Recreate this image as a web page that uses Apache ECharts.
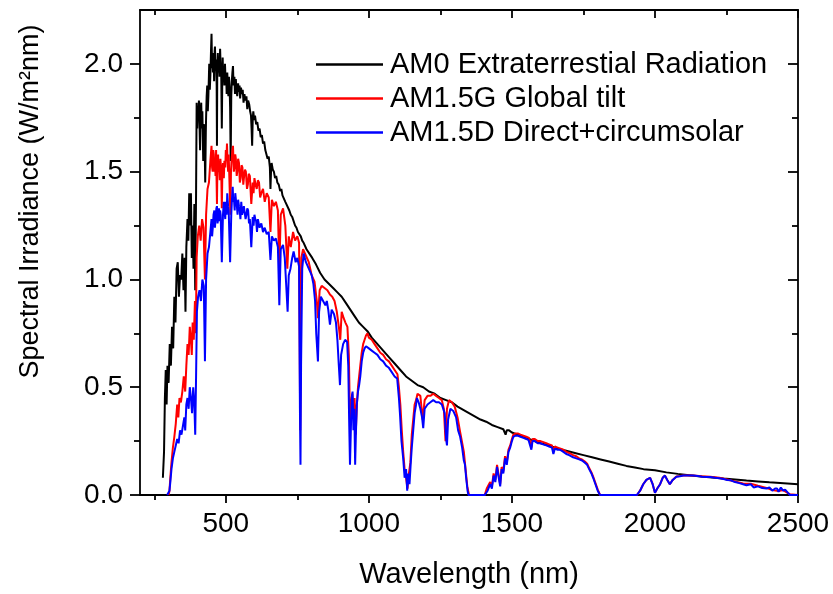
<!DOCTYPE html>
<html>
<head>
<meta charset="utf-8">
<script src="https://cdn.jsdelivr.net/npm/echarts@6/dist/echarts.min.js"></script>
<style>
  html, body { margin: 0; padding: 0; background: #fff; }
  #chart { width: 833px; height: 594px; }
</style>
</head>
<body>
<div id="chart"></div>
<script>
// tick labels
const xMajor = [500, 1000, 1500, 2000, 2500]
const xMinor = [250, 750, 1250, 1750, 2250]
const yMajor = [0, 0.5, 1.0, 1.5, 2.0]
const yMinor = [0.25, 0.75, 1.25, 1.75]

// AM0 extraterrestrial (wavelength nm / W m-2 nm-1)
const am0Wl = [280, 284, 287, 290, 293, 296, 300, 304, 308, 312, 316, 320, 324, 328, 332, 336, 340, 344, 348, 352, 356, 359, 362, 366, 369, 372, 375, 378, 381, 384, 387, 390, 393, 396,
  398, 400, 402, 404, 406, 408, 410, 412, 414, 416, 418, 421, 423, 425, 428, 430, 431, 433, 435, 437, 439, 441, 442, 444, 446, 448, 450, 452, 453, 455, 456, 458, 459, 461, 462, 464, 466, 468, 469, 470, 472, 474, 476, 478, 480, 482, 484, 486, 488, 489, 491, 493, 495, 497, 499, 501, 503, 505, 507, 509, 511, 513, 515, 517, 519, 521, 523, 525, 527, 530, 532, 535, 537, 540, 543, 545, 548, 550, 553, 556, 559, 562, 565, 568, 572, 575, 578, 582, 585, 588, 590, 592, 594, 596, 599, 602, 606, 610, 614, 618, 622, 626, 630, 634, 638, 642, 646, 650, 654, 656, 658, 660, 664, 668, 672, 676, 680, 685, 690, 694, 698, 703, 708, 712,
  722, 727, 732, 742, 747, 752, 762, 767, 772, 782, 792, 802, 815, 830, 845, 860, 875, 890, 905, 920, 935, 950, 965, 980, 995, 1010, 1030, 1050, 1070, 1090, 1110, 1130, 1150, 1170, 1190, 1210, 1230, 1250, 1270, 1290, 1310, 1330, 1350, 1370, 1390, 1410, 1430, 1450, 1470, 1478, 1482, 1490, 1500, 1520, 1540, 1560, 1580, 1600, 1630, 1660, 1690, 1720, 1750, 1780, 1810, 1840, 1870, 1900, 1930, 1960, 2000, 2040, 2080, 2120, 2160, 2200, 2240, 2280, 2320, 2360, 2400, 2450, 2500]
const am0Val = [0.08, 0.20, 0.45, 0.58, 0.42, 0.60, 0.52, 0.70, 0.60, 0.78, 0.68, 0.92, 0.80, 1.05, 1.08, 0.92, 1.02, 1.00, 1.12, 0.95, 1.10, 0.85, 1.15, 1.28, 1.18, 1.40, 1.25, 1.40, 1.10, 1.25, 1.05, 1.35, 0.95, 1.40,
  1.82, 1.70, 1.80, 1.75, 1.83, 1.72, 1.60, 1.78, 1.82, 1.70, 1.78, 1.55, 1.72, 1.70, 1.45, 1.68, 1.75, 1.85, 1.90, 1.78, 1.85, 1.95, 2.00, 1.88, 1.95, 2.05, 2.14, 1.98, 2.05, 1.96, 2.05, 2.00, 1.92, 2.06, 2.08, 1.97, 2.02, 1.90, 1.62, 1.95, 2.05, 1.96, 2.01, 1.94, 2.07, 1.98, 1.95, 1.70, 1.98, 2.03, 1.92, 1.99, 1.90, 2.00, 1.93, 1.96, 1.86, 1.96, 1.90, 1.85, 1.94, 1.90, 1.80, 1.55, 1.85, 1.92, 1.96, 1.99, 1.90, 1.94, 1.86, 1.93, 1.88, 1.85, 1.91, 1.87, 1.90, 1.84, 1.89, 1.86, 1.88, 1.82, 1.86, 1.83, 1.85, 1.79, 1.83, 1.81, 1.78, 1.76, 1.70, 1.62, 1.74, 1.78, 1.74, 1.76, 1.72, 1.73, 1.69, 1.70, 1.66, 1.67, 1.63, 1.64, 1.60, 1.60, 1.56, 1.57, 1.52, 1.42, 1.50, 1.54, 1.51, 1.50, 1.47, 1.48, 1.45, 1.44, 1.41, 1.42, 1.39, 1.39, 1.36, 1.36,
  1.32, 1.30, 1.29, 1.25, 1.24, 1.22, 1.20, 1.18, 1.17, 1.14, 1.12, 1.10, 1.07, 1.03, 1.00, 0.98, 0.96, 0.94, 0.92, 0.89, 0.86, 0.83, 0.80, 0.78, 0.76, 0.73, 0.70, 0.67, 0.64, 0.61, 0.58, 0.55, 0.53, 0.51, 0.50, 0.48, 0.47, 0.45, 0.44, 0.43, 0.41, 0.395, 0.38, 0.365, 0.35, 0.34, 0.325, 0.315, 0.305, 0.28, 0.30, 0.30, 0.29, 0.28, 0.27, 0.26, 0.25, 0.24, 0.23, 0.215, 0.205, 0.195, 0.185, 0.175, 0.165, 0.155, 0.145, 0.135, 0.128, 0.12, 0.115, 0.105, 0.098, 0.092, 0.086, 0.081, 0.076, 0.072, 0.067, 0.063, 0.059, 0.055, 0.05]

// AM1.5G global tilt
const globalWl = [300, 303, 306, 310, 315, 320, 325, 330, 334, 338, 343, 348, 353, 358, 362, 366, 370, 374, 378, 381, 384, 388, 392, 395, 398, 402, 407, 412, 417, 422, 427, 431, 436, 441, 446, 450, 452, 454, 456, 458, 460, 462, 464, 466, 469, 471, 473, 475, 477, 479, 481, 484, 486, 488, 490, 493, 495, 498, 500, 502, 504, 506, 508, 510, 512, 516, 518, 520, 523, 525, 528, 530, 533, 535, 538, 540, 543, 546, 549, 552, 555, 558, 561, 564, 567, 570, 574, 577, 580, 584, 589, 594, 597, 600, 604, 608, 612, 616, 620, 624, 630, 636, 643, 650, 656, 661, 668, 675, 682, 687, 692, 700, 708, 715, 720, 727, 735, 742, 750, 756, 760, 764, 770, 780, 790, 800, 810, 818, 822, 828, 835, 845, 855, 864, 872, 880, 888, 895, 900, 905, 912, 918, 925, 930, 934, 938, 942, 946, 950, 954, 958, 962, 966, 970, 975, 980, 985, 990, 995, 1000, 1010, 1020, 1030, 1040, 1050, 1060, 1070, 1080, 1090, 1100, 1105, 1110, 1115, 1120, 1125, 1130, 1135, 1140, 1145, 1150, 1155, 1160, 1165, 1170, 1180, 1188, 1195, 1205, 1215, 1225, 1235, 1245, 1255, 1262, 1268, 1273, 1280, 1290, 1300, 1310, 1318, 1325, 1332, 1338, 1344, 1350, 1405, 1412, 1424, 1430, 1436, 1442, 1448, 1454, 1459, 1464, 1470, 1476, 1482, 1488, 1494, 1500, 1505, 1512, 1522, 1530, 1540, 1550, 1560, 1568, 1572, 1580, 1590, 1600, 1610, 1620, 1630, 1640, 1645, 1650, 1660, 1670, 1680, 1690, 1700, 1714, 1725, 1735, 1745, 1755, 1763, 1770, 1778, 1784, 1792, 1800, 1808, 1937, 1948, 1959, 1970, 1983, 1992, 2000, 2008, 2018, 2027, 2035, 2043, 2052, 2062, 2075, 2087, 2100, 2133, 2165, 2193, 2225, 2252, 2280, 2308, 2335, 2360, 2390, 2410, 2432, 2448, 2472, 2500]
const globalVal = [0.0, 0.02, 0.08, 0.15, 0.22, 0.27, 0.33, 0.42, 0.36, 0.45, 0.43, 0.48, 0.55, 0.48, 0.60, 0.70, 0.65, 0.78, 0.72, 0.65, 0.80, 0.72, 0.90, 0.75, 1.10, 1.20, 1.25, 1.18, 1.28, 1.24, 1.00, 1.30, 1.42, 1.45, 1.55, 1.62, 1.52, 1.50, 1.60, 1.58, 1.50, 1.55, 1.48, 1.60, 1.35, 1.56, 1.58, 1.50, 1.52, 1.46, 1.56, 1.50, 1.33, 1.50, 1.54, 1.47, 1.55, 1.52, 1.60, 1.55, 1.63, 1.55, 1.50, 1.58, 1.58, 1.30, 1.50, 1.55, 1.60, 1.62, 1.50, 1.52, 1.58, 1.56, 1.48, 1.50, 1.56, 1.54, 1.45, 1.47, 1.53, 1.52, 1.44, 1.48, 1.51, 1.50, 1.42, 1.44, 1.49, 1.48, 1.35, 1.45, 1.40, 1.47, 1.44, 1.42, 1.46, 1.45, 1.38, 1.40, 1.42, 1.36, 1.40, 1.38, 1.22, 1.37, 1.34, 1.36, 1.32, 1.05, 1.30, 1.33, 1.25, 1.05, 1.20, 1.15, 1.22, 1.18, 1.20, 1.17, 0.30, 1.10, 1.14, 1.11, 1.08, 1.02, 0.99, 0.90, 0.82, 0.95, 0.97, 0.96, 0.95, 0.93, 0.92, 0.90, 0.85, 0.78, 0.72, 0.85, 0.82, 0.80, 0.78, 0.65, 0.35, 0.42, 0.47, 0.40, 0.45, 0.28, 0.42, 0.50, 0.55, 0.60, 0.66, 0.70, 0.72, 0.74, 0.75, 0.73, 0.72, 0.70, 0.68, 0.66, 0.65, 0.63, 0.62, 0.60, 0.58, 0.56, 0.50, 0.42, 0.30, 0.20, 0.12, 0.08, 0.03, 0.10, 0.15, 0.28, 0.35, 0.42, 0.44, 0.47, 0.46, 0.35, 0.44, 0.46, 0.46, 0.47, 0.46, 0.45, 0.44, 0.40, 0.25, 0.40, 0.44, 0.43, 0.41, 0.36, 0.30, 0.25, 0.20, 0.12, 0.04, 0.0, 0.0, 0.03, 0.06, 0.04, 0.10, 0.07, 0.14, 0.09, 0.05, 0.13, 0.11, 0.18, 0.15, 0.21, 0.23, 0.26, 0.28, 0.285, 0.285, 0.28, 0.275, 0.27, 0.265, 0.22, 0.26, 0.26, 0.25, 0.25, 0.245, 0.24, 0.235, 0.23, 0.20, 0.225, 0.22, 0.215, 0.21, 0.20, 0.195, 0.185, 0.18, 0.17, 0.165, 0.155, 0.145, 0.125, 0.105, 0.085, 0.055, 0.025, 0.0, 0.0, 0.02, 0.05, 0.07, 0.08, 0.05, 0.01, 0.03, 0.05, 0.08, 0.09, 0.07, 0.05, 0.07, 0.086, 0.088, 0.091, 0.091, 0.087, 0.085, 0.08, 0.072, 0.063, 0.053, 0.052, 0.043, 0.033, 0.023, 0.018, 0.023, 0.003, 0.0]

// AM1.5D direct + circumsolar
const directWl = [295, 300, 303, 306, 310, 315, 320, 325, 330, 335, 340, 345, 350, 355, 358, 362, 366, 370, 374, 378, 382, 386, 390, 393, 396, 399, 403, 408, 413, 418, 423, 427, 431, 436, 441, 446, 450, 452, 455, 457, 460, 462, 465, 467, 469, 471, 473, 476, 478, 480, 482, 486, 490, 493, 495, 498, 500, 503, 505, 508, 510, 515, 519, 521, 524, 526, 528, 531, 533, 536, 538, 541, 543, 546, 548, 551, 554, 557, 560, 563, 566, 569, 572, 575, 578, 581, 584, 589, 594, 597, 600, 603, 606, 609, 612, 615, 618, 624, 630, 636, 643, 650, 656, 661, 668, 675, 682, 687, 692, 700, 706, 712, 716, 720, 726, 732, 737, 744, 750, 756, 759, 761, 763, 767, 772, 780, 790, 800, 806, 812, 816, 822, 826, 832, 840, 848, 853, 858, 864, 870, 878, 885, 890, 895, 899, 903, 910, 917, 924, 928, 931, 934, 937, 940, 943, 946, 949, 952, 955, 958, 962, 966, 970, 975, 980, 985, 990, 995, 1000, 1010, 1020, 1030, 1040, 1050, 1060, 1070, 1080, 1090, 1099, 1105, 1109, 1114, 1120, 1125, 1130, 1134, 1138, 1142, 1146, 1150, 1155, 1160, 1165, 1168, 1174, 1180, 1186, 1190, 1195, 1205, 1215, 1225, 1235, 1245, 1255, 1260, 1265, 1270, 1273, 1277, 1285, 1295, 1305, 1312, 1319, 1326, 1332, 1336, 1340, 1345, 1348, 1405, 1415, 1424, 1430, 1436, 1442, 1448, 1454, 1459, 1464, 1470, 1476, 1482, 1488, 1494, 1500, 1505, 1512, 1522, 1530, 1540, 1550, 1558, 1564, 1568, 1572, 1580, 1590, 1600, 1609, 1620, 1630, 1640, 1645, 1650, 1660, 1668, 1680, 1690, 1700, 1714, 1725, 1735, 1745, 1755, 1763, 1770, 1778, 1784, 1792, 1800, 1808, 1937, 1948, 1959, 1970, 1983, 1992, 2000, 2008, 2018, 2027, 2035, 2043, 2052, 2062, 2075, 2087, 2100, 2115, 2133, 2150, 2165, 2180, 2193, 2210, 2225, 2240, 2252, 2265, 2280, 2295, 2308, 2320, 2335, 2345, 2360, 2375, 2390, 2400, 2410, 2420, 2427, 2432, 2440, 2448, 2455, 2465, 2472, 2500]
const directVal = [0.0, 0.0, 0.02, 0.06, 0.12, 0.17, 0.20, 0.23, 0.26, 0.24, 0.30, 0.28, 0.32, 0.36, 0.30, 0.42, 0.45, 0.40, 0.50, 0.45, 0.38, 0.50, 0.42, 0.28, 0.55, 0.85, 0.92, 0.95, 0.90, 1.00, 0.97, 0.62, 1.00, 1.12, 1.15, 1.22, 1.28, 1.20, 1.25, 1.30, 1.32, 1.24, 1.30, 1.33, 1.34, 1.26, 1.28, 1.33, 1.27, 1.32, 1.30, 1.08, 1.30, 1.36, 1.33, 1.28, 1.36, 1.30, 1.40, 1.34, 1.32, 1.08, 1.30, 1.36, 1.43, 1.36, 1.38, 1.32, 1.40, 1.36, 1.35, 1.30, 1.37, 1.34, 1.33, 1.28, 1.36, 1.30, 1.32, 1.34, 1.34, 1.28, 1.30, 1.33, 1.32, 1.26, 1.28, 1.15, 1.29, 1.25, 1.30, 1.28, 1.27, 1.22, 1.28, 1.26, 1.24, 1.26, 1.22, 1.24, 1.21, 1.22, 1.09, 1.20, 1.18, 1.19, 1.15, 0.88, 1.14, 1.16, 1.10, 0.95, 0.85, 1.02, 1.05, 1.10, 1.13, 1.08, 1.10, 1.06, 0.40, 0.14, 0.60, 1.05, 1.12, 1.08, 1.05, 1.02, 0.98, 0.90, 0.75, 0.62, 0.85, 0.92, 0.90, 0.88, 0.90, 0.86, 0.79, 0.86, 0.84, 0.80, 0.72, 0.60, 0.51, 0.65, 0.70, 0.72, 0.71, 0.60, 0.35, 0.14, 0.30, 0.45, 0.48, 0.30, 0.40, 0.14, 0.30, 0.42, 0.48, 0.51, 0.55, 0.62, 0.66, 0.68, 0.69, 0.69, 0.68, 0.67, 0.66, 0.65, 0.63, 0.62, 0.60, 0.59, 0.57, 0.55, 0.54, 0.45, 0.37, 0.25, 0.17, 0.08, 0.12, 0.02, 0.10, 0.05, 0.14, 0.22, 0.30, 0.38, 0.42, 0.45, 0.43, 0.40, 0.36, 0.31, 0.40, 0.42, 0.43, 0.44, 0.43, 0.43, 0.42, 0.42, 0.38, 0.26, 0.23, 0.35, 0.40, 0.39, 0.36, 0.30, 0.27, 0.22, 0.16, 0.14, 0.08, 0.02, 0.0, 0.0, 0.02, 0.05, 0.03, 0.09, 0.06, 0.13, 0.08, 0.04, 0.12, 0.10, 0.17, 0.14, 0.20, 0.22, 0.25, 0.27, 0.275, 0.275, 0.27, 0.265, 0.26, 0.255, 0.26, 0.21, 0.25, 0.25, 0.24, 0.24, 0.235, 0.23, 0.225, 0.22, 0.19, 0.215, 0.21, 0.21, 0.20, 0.19, 0.185, 0.175, 0.17, 0.165, 0.16, 0.15, 0.14, 0.12, 0.10, 0.08, 0.05, 0.02, 0.0, 0.0, 0.02, 0.05, 0.07, 0.08, 0.05, 0.01, 0.03, 0.05, 0.08, 0.09, 0.07, 0.05, 0.07, 0.085, 0.087, 0.09, 0.09, 0.09, 0.088, 0.085, 0.084, 0.083, 0.08, 0.078, 0.074, 0.07, 0.068, 0.06, 0.055, 0.05, 0.045, 0.05, 0.035, 0.04, 0.032, 0.03, 0.035, 0.02, 0.03, 0.03, 0.015, 0.035, 0.02, 0.025, 0.01, 0.0, 0.0]

function pairs (wl, val) {
  return wl.map((w, i) => [w, val[i]])
}

const FONT = 'Liberation Sans, Arial, sans-serif'
const lineStyle = { color: '#000', width: 1.8 }

function xAxis (position, ticks, len, inside, labels, showLine) {
  return {
    type: 'value',
    position: position,
    min: 200,
    max: 2500,
    axisLine: { show: showLine, onZero: false, lineStyle: lineStyle },
    axisTick: { show: true, inside: inside, length: len, customValues: ticks, lineStyle: lineStyle },
    axisLabel: labels
      ? { show: true, customValues: ticks, margin: 15, color: '#000', fontSize: 28, fontFamily: FONT,
          formatter: v => String(v) }
      : { show: false },
    splitLine: { show: false }
  }
}

function yAxis (position, ticks, len, inside, labels, showLine) {
  return {
    type: 'value',
    position: position,
    min: 0,
    max: 2.25,
    axisLine: { show: showLine, onZero: false, lineStyle: lineStyle },
    axisTick: { show: true, inside: inside, length: len, customValues: ticks, lineStyle: lineStyle },
    axisLabel: labels
      ? { show: true, customValues: ticks, margin: 17, color: '#000', fontSize: 28, fontFamily: FONT,
          formatter: v => v.toFixed(1) }
      : { show: false },
    splitLine: { show: false }
  }
}

const xAxes = [
  xAxis('bottom', xMajor, 8, false, true, true),
  xAxis('bottom', xMinor, 5, false, false, false),
  xAxis('top', xMajor, 8, true, false, true),
  xAxis('top', xMinor, 5, true, false, false)
]
xAxes[0].name = 'Wavelength (nm)'
xAxes[0].nameLocation = 'middle'
xAxes[0].nameGap = 65
xAxes[0].nameTextStyle = { color: '#000', fontSize: 29, fontFamily: FONT }

const yAxes = [
  yAxis('left', yMajor, 10, false, true, true),
  yAxis('left', yMinor, 6, false, false, false),
  yAxis('right', yMajor, 10, true, false, true),
  yAxis('right', yMinor, 6, true, false, false)
]
yAxes[0].name = 'Spectral Irradiance (W/m²nm)'
yAxes[0].nameLocation = 'middle'
yAxes[0].nameGap = 96
yAxes[0].nameTextStyle = { color: '#000', fontSize: 27, fontFamily: FONT, padding: [0, 0, 0, 102] }

const chart = echarts.init(document.getElementById('chart'), null, { renderer: 'canvas' })
const option = {
  animation: false,
  backgroundColor: '#fff',
  grid: { left: 140, right: 35, top: 10, bottom: 96 },
  legend: {
    orient: 'vertical',
    left: 316,
    top: 50,
    padding: 0,
    itemWidth: 67,
    itemHeight: 2.5,
    itemGap: 5,
    icon: 'rect',
    textStyle: { color: '#000', fontSize: 29, fontFamily: FONT, padding: [0, 0, 0, 2] },
    data: ['AM0 Extraterrestial Radiation', 'AM1.5G Global tilt', 'AM1.5D Direct+circumsolar']
  },
  xAxis: xAxes,
  yAxis: yAxes,
  series: [
    {
      name: 'AM0 Extraterrestial Radiation',
      type: 'line',
      showSymbol: false,
      lineStyle: { color: '#000', width: 2 },
      itemStyle: { color: '#000' },
      data: pairs(am0Wl, am0Val)
    },
    {
      name: 'AM1.5G Global tilt',
      type: 'line',
      showSymbol: false,
      lineStyle: { color: '#ff0000', width: 2 },
      itemStyle: { color: '#ff0000' },
      data: pairs(globalWl, globalVal)
    },
    {
      name: 'AM1.5D Direct+circumsolar',
      type: 'line',
      showSymbol: false,
      lineStyle: { color: '#0000ff', width: 2 },
      itemStyle: { color: '#0000ff' },
      data: pairs(directWl, directVal)
    }
  ]
}
chart.setOption(option)
</script>
</body>
</html>
